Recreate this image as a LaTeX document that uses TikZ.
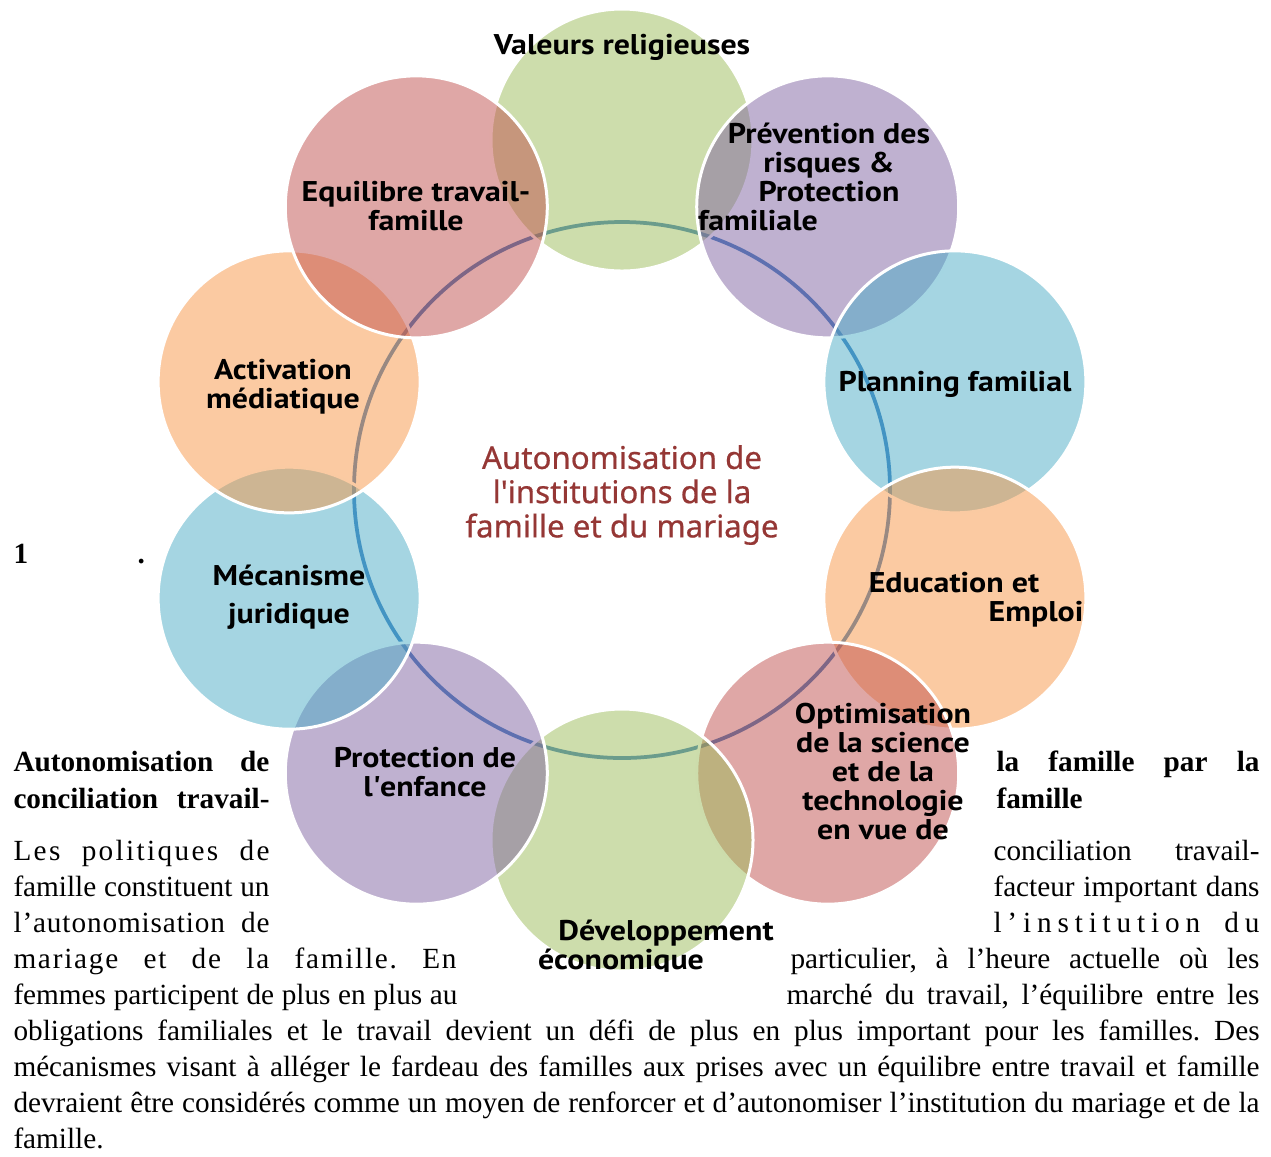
\documentclass[tikz,border=0pt]{standalone}
\usepackage{fontspec}
\setmainfont{Liberation Serif}
\newfontfamily\lblfont{PT Sans}[FakeStretch=1.12]
\newfontfamily\titlefont{Noto Sans}[FakeBold=0.6]
\usetikzlibrary{calc}

\definecolor{accgreen}{HTML}{9BBB59}
\definecolor{accpurple}{HTML}{8064A2}
\definecolor{accblue}{HTML}{4BACC6}
\definecolor{accorange}{HTML}{F79646}
\definecolor{accred}{HTML}{C0504D}
\definecolor{ringblue}{HTML}{3C7DC0}
\definecolor{titlered}{HTML}{953735}

% justified lines of the running text
\newcommand\jline[2]{\makebox[#1][s]{#2}}
\newcommand\spline[3]{\makebox[#1][s]{\addfontfeatures{LetterSpace=#2}#3}}

\tikzset{
  bubble/.style={circle, draw=white, line width=1.2pt, fill opacity=.5,
    minimum size=104.8pt, inner sep=0pt},
  lbl/.style={font=\lblfont\bfseries\fontsize{11.4}{11.6}\selectfont,
    align=center, inner sep=0pt},
  body/.style={anchor=base west, inner sep=0pt,
    font=\fontsize{11.7}{14}\selectfont\frenchspacing},
}

\begin{document}
\begin{tikzpicture}[x=0.4pt, y=-0.4pt]
\useasboundingbox (0,0) rectangle (1271,1156);

\coordinate (ctr) at (622,490);

\begin{scope}
\clip (0,0) rectangle (1271,971);
% ring behind the circles
\draw[ringblue, line width=1.5pt] (ctr) circle[radius=268];
% y points down, so -90 is the top
\foreach \a/\col [count=\i] in {-90/accgreen,-54/accpurple,-18/accblue,18/accorange,54/accred,
                                90/accgreen,126/accpurple,162/accblue,198/accorange,234/accred}
  \node[bubble, fill=\col] (b\i) at ($(ctr)+(\a:350)$) {};

\node[lbl, anchor=base] (t1) at (622,54) {Valeurs religieuses};
\node[lbl] (t2) at (829,177) {Prévention des\\risques \&\\Protection\\\hspace*{-56.8pt}familiale};
\node[lbl, anchor=base] (t3) at (955,391) {Planning familial};
\node[lbl] (t4) at (954,600) {Education et\\\hspace*{65.6pt}Emploi};
\node[lbl] (t5) at (883,771) {Optimisation\\de la science\\et de la\\technologie\\en vue de};
\node[lbl] (t6) at (621,948) {\hspace*{36pt}Développement\\économique};
\node[lbl] (t7) at (425,772) {Protection de\\l\textquotesingle enfance};
\node[lbl] (t8) at (289,597) {Mécanisme\\[3.6pt]juridique};
\node[lbl] (t9) at (283,387) {Activation\\médiatique};
\node[lbl] (t10) at (416,206) {Equilibre travail-\\famille};

\node[font=\titlefont\fontsize{12.5}{13.7}\selectfont, text=titlered, align=center, inner sep=0pt]
  (title) at (622,495) {Autonomisation de\\l\textquotesingle institutions de la\\famille et du mariage};
\end{scope}

% text around the figure
\node[body] (num) at (13,563) {\bfseries 1};
\node[body] (dot) at (137,563) {\bfseries .};

\node[body] (hl1) at (13,771.5) {\bfseries\jline{102.4pt}{Autonomisation de}};
\node[body] (hl2) at (13,808) {\bfseries\jline{102.4pt}{conciliation travail-}};
\node[body] (hr1) at (996,771.5) {\bfseries\jline{105.2pt}{la famille par la}};
\node[body] (hr2) at (996,808) {\bfseries famille};

\node[body] (l1) at (13,860) {\spline{102.4pt}{8}{Les politiques de}};
\node[body] (r1) at (993,860) {\jline{106.4pt}{conciliation travail-}};
\node[body] (l2) at (13,896) {\jline{102.4pt}{famille constituent un}};
\node[body] (r2) at (993,896) {\jline{106.4pt}{facteur important dans}};
\node[body] (l3) at (13,932) {\spline{102.4pt}{3}{l’autonomisation de}};
\node[body] (r3) at (993,932) {\spline{106.4pt}{20}{l’institution du}};
\node[body] (l4) at (13,968) {\spline{177.2pt}{6}{mariage et de la famille. En}};
\node[body] (r4) at (790,968) {\jline{187.6pt}{particulier, à l’heure actuelle où les}};
\node[body] (l5) at (13,1004) {\jline{177.6pt}{femmes participent de plus en plus au}};
\node[body] (r5) at (786,1004) {\jline{189.2pt}{marché du travail, l’équilibre entre les}};
\node[body] (f1) at (13,1040) {\jline{498.4pt}{obligations familiales et le travail devient un défi de plus en plus important pour les familles. Des}};
\node[body] (f2) at (13,1076) {\jline{498.4pt}{mécanismes visant à alléger le fardeau des familles aux prises avec un équilibre entre travail et famille}};
\node[body] (f3) at (13,1112) {\jline{498.4pt}{devraient être considérés comme un moyen de renforcer et d’autonomiser l’institution du mariage et de la}};
\node[body] (f4) at (13,1148) {famille.};
\end{tikzpicture}
\end{document}
